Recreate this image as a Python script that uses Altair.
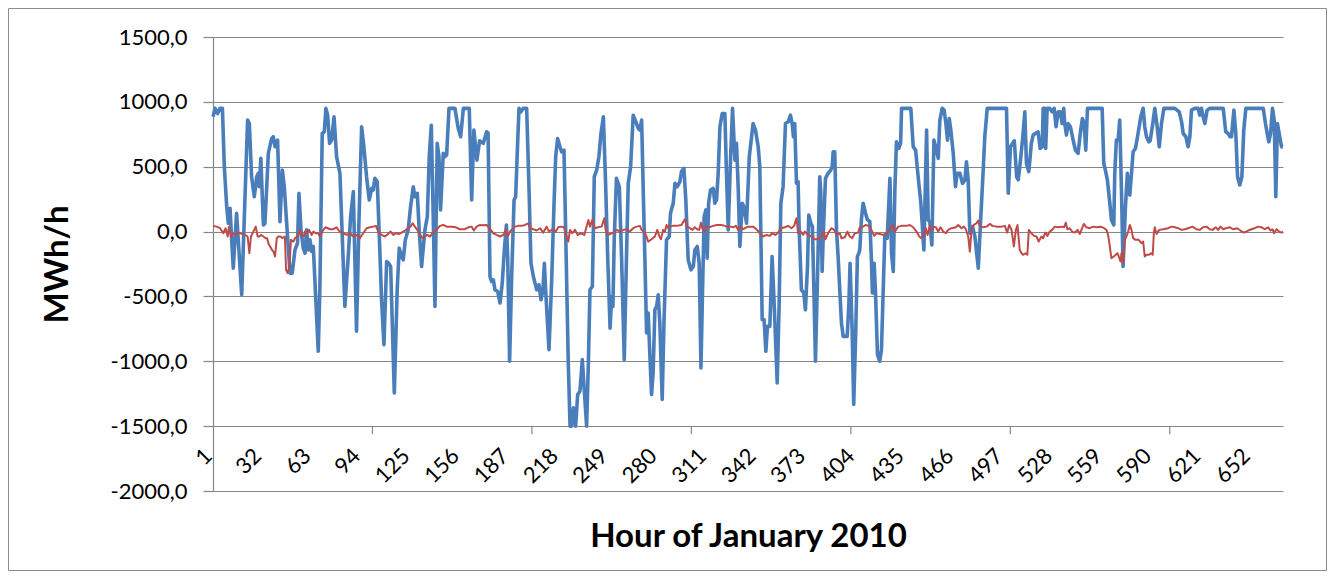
import altair as alt
import pandas as pd

# ---- data (hour, MWh/h) ----
blue_points = [
    (1, 885), (2.3, 950), (3.9, 910), (5.4, 950), (6.9, 950), (8.1, 500), (9.6, 190), (10.6, 64),
    (11.7, 180), (12.7, -64), (13.7, -282), (15.8, 141), (19, -487), (22.7, 859), (23.8, 833),
    (25.2, 423), (26.9, 269), (28.4, 423), (29.4, 449), (30, 346), (31, 564), (32.6, 51), (33.6, 64),
    (35.7, 603), (37.8, 718), (38.8, 731), (39.9, 654), (41.5, 705), (43, 77), (44.5, 474),
    (45.7, 346), (47.2, 64), (49.3, -320), (50.7, -320), (52.4, -141), (54, -90), (54.9, 295),
    (56.2, 13), (57.6, -128), (58.7, -167), (59.7, 13), (60.8, -141), (61.8, -64), (62.9, -154),
    (63.9, -115), (67, -923), (68, -449), (69.5, 756), (70.8, 769), (71.8, 950), (72.9, 897),
    (74.1, 680), (75.4, 705), (76.9, 885), (78.5, 577), (80.6, 449), (83.7, -577), (85.8, -192),
    (87.3, 115), (89, 308), (91, -769), (92.5, 64), (94.2, 808), (95.6, 654), (97.3, 423), (99, 244),
    (100.5, 333), (101.5, 320), (102.5, 410), (104, 385), (105.3, -38), (106.7, -526), (108.2, -872),
    (109.9, -231), (111.1, -244), (112.4, -269), (114.7, -1244), (116.5, -449), (117.8, -128),
    (119.3, -192), (120.3, -218), (121.6, -64), (123.4, 13), (124.9, 192), (126.6, 346), (127.6, 269),
    (129.1, 295), (130.3, 13), (131.8, -269), (133.9, 13), (135.4, 115), (136.6, 577), (137.9, 820),
    (139.1, 115), (140.2, -577), (141.6, 680), (142.7, 577), (143.7, 167), (145.4, 603), (146.4, 577),
    (147.5, 590), (149, 950), (152.7, 950), (154.8, 795), (156.3, 731), (158, 950), (161.7, 950),
    (163.2, 244), (164.6, 782), (166.5, 551), (168.2, 700), (170.5, 680), (172.6, 769), (173.5, 760),
    (174.7, -346), (175.7, -385), (176.8, -372), (177.8, -449), (179.5, -462), (181, -551),
    (182.4, -397), (183.7, -141), (185, 51), (185.8, -192), (187, -1000), (188.3, -346), (189.8, 244),
    (190.8, 269), (192.1, 705), (192.9, 950), (194.1, 923), (195.6, 950), (197.7, 950), (199.2, 320),
    (200.4, -244), (201.9, -346), (204, -449), (205.4, -410), (206.7, -526), (207.9, -449),
    (208.8, -244), (209.6, -449), (211.7, -910), (213.4, -372), (214.8, 192), (215.9, 577),
    (217.1, 718), (218.6, 654), (219.6, 615), (221.1, 628), (222.1, 38), (223.8, -1013),
    (224.9, -1500), (225.9, -1500), (227, -1359), (228.4, -1500), (229.7, -1256), (231.1, -1231),
    (232.6, -987), (233.8, -1218), (235.3, -1500), (236.4, -1013), (237.4, -449), (238.9, -423),
    (240.1, 423), (241.6, 474), (243, 577), (244.3, 756), (245.8, 885), (247.2, 372), (248.5, -192),
    (250, -744), (251, -500), (251.8, -577), (252.6, -64), (254, 410), (255.8, 346), (257.2, -192),
    (258.9, -987), (260.3, -192), (261.4, 372), (262.9, 500), (264.5, 897), (266.2, 846),
    (267.7, 795), (268.7, 782), (269.8, 859), (270.8, 320), (271.8, -192), (272.9, -782),
    (273.9, -628), (275, -962), (276, -1256), (277, -1090), (278.1, -603), (279.2, -577),
    (280.2, -487), (281.2, -705), (282.7, -1295), (283.8, -705), (285.4, -64), (287.1, -38),
    (287.9, 141), (289.6, 218), (290.7, 372), (292.1, 346), (293.8, 385), (294.8, 462), (296.3, 487),
    (297.5, 244), (299, -218), (300.7, -295), (302.2, -269), (303.2, -141), (304.7, -115),
    (305.9, -244), (307, -1051), (308, -449), (309, 115), (310.1, 167), (310.9, -205), (311.8, 218),
    (313, 320), (314.7, 333), (315.7, 218), (316.8, 244), (317.8, 449), (318.9, 808), (320.3, 910),
    (322, 910), (323, 449), (324.1, 13), (325.6, 577), (326.8, 950), (328.3, 551), (329.3, 680),
    (330.4, 320), (331.4, -115), (332.9, 218), (333.9, 192), (335.6, 64), (337.3, 577), (339.7, 833),
    (341.2, 782), (342.9, 654), (343.9, 500), (345.4, -679), (346.6, -679), (347.7, -923),
    (348.7, -731), (350.2, -731), (351.6, -192), (352.9, -551), (354.8, -1167), (356, -577),
    (357.1, 218), (358.5, 346), (360, 833), (361.7, 846), (363.1, 897), (364.2, 833), (365, 731),
    (365.8, 833), (366.9, 372), (367.9, 385), (368.6, 13), (370, -449), (371.5, -474), (372.5, -603),
    (373.8, -269), (374.6, 128), (375.9, 64), (376.9, 38), (377.8, -449), (378.8, -1000),
    (380.1, -346), (381.5, 423), (382.1, 320), (383, -308), (383.8, 13), (385.1, 410), (386.7, 449),
    (388.4, 474), (389.3, 500), (389.9, 615), (390.9, 615), (392, 13), (393, -192), (395.1, -705),
    (396.2, -808), (398.7, -808), (399.7, -577), (400.5, -244), (401.8, -756), (402.8, -1333),
    (404.1, -756), (405.1, -192), (406, -167), (406.6, -141), (407.6, 90), (408.7, 218), (410.2, 141),
    (411.4, 90), (412.9, 77), (413.9, -218), (414.5, -474), (415.6, -244), (416.4, -449),
    (417.7, -949), (419.1, -1000), (420.2, -910), (421.3, -449), (422.3, -38), (423.8, -51),
    (425.5, 410), (426.5, -167), (427.6, -308), (428.6, 320), (429.6, 692), (431.1, 641),
    (432.2, 680), (432.8, 950), (438.6, 950), (440.1, 654), (441.6, 628), (443.2, 423), (444.9, 218),
    (446.8, -141), (448.5, 782), (449.5, 90), (450.5, 77), (451.8, -103), (453.1, 705), (454.7, 628),
    (455.8, 564), (456.8, 859), (458.3, 950), (459.5, 936), (460.6, 833), (461.6, 705), (462.7, 872),
    (463.7, 782), (465.2, 603), (466.6, 346), (467.7, 449), (469.4, 449), (471, 372), (472.5, 397),
    (473.5, 538), (474.6, 397), (475.6, -13), (477.3, 38), (478.8, -38), (480.9, -282), (482.3, 64),
    (484, 474), (485, 731), (486.5, 950), (498.6, 950), (499.7, 295), (501.1, 654), (503.5, 700),
    (505, 420), (506, 400), (507.6, 577), (509, 756), (510.1, 923), (511.1, 526), (512.6, 462),
    (514.2, 680), (515.3, 744), (516.8, 756), (518.4, 769), (519.7, 641), (521, 654), (521.6, 950),
    (522.6, 950), (523.2, 641), (524.1, 950), (525.7, 950), (527.2, 923), (528.5, 950), (529.7, 808),
    (531, 923), (532.4, 923), (533.5, 833), (534.5, 950), (535.1, 833), (536.2, 744), (537.2, 833),
    (538.7, 808), (540.4, 705), (541.8, 628), (543.5, 603), (545, 769), (546.2, 872), (547.3, 833),
    (548.3, 628), (549.4, 950), (558.6, 950), (559.6, 526), (560.6, 474), (561.9, 397), (563.4, 218),
    (564.4, 90), (565.9, 51), (566.5, 449), (567.5, 705), (568.6, 705), (569.6, 859), (570.7, 320),
    (571.7, -269), (573.2, 192), (574.4, 449), (575.9, 282), (577, 449), (578, 615), (579.5, 641),
    (581.1, 756), (582.8, 885), (584.3, 950), (585.3, 808), (586.4, 731), (587.8, 692), (588.7, 700),
    (590.3, 830), (591.6, 950), (593.1, 808), (594.4, 654), (595.8, 833), (597.3, 950), (604.2, 950),
    (606.9, 923), (608.4, 846), (609.4, 756), (611.1, 731), (612.5, 654), (613.6, 731), (614.6, 936),
    (616.7, 950), (618.8, 950), (619.8, 897), (620.9, 950), (621.9, 885), (623, 833), (624.4, 936),
    (626.1, 950), (634.5, 950), (636.1, 769), (637.6, 756), (638.7, 731), (639.7, 731), (641.2, 936),
    (642.4, 756), (643.5, 423), (644.9, 359), (646.2, 423), (647.4, 782), (648.7, 950), (659.6, 950),
    (661, 833), (662.1, 756), (663.1, 692), (664.2, 756), (665.4, 950), (666.5, 859), (667.5, 269),
    (668.5, 833), (669.6, 756), (671.1, 654), (672, 650),
]

red_points = [
    (1, 44), (3.3, 38), (5.4, 26), (7.5, -13), (8.9, 26), (10.2, -38), (11, 38), (12.3, -38),
    (13.7, -13), (15.2, -26), (16.9, -8), (19, -18), (21.1, -26), (22.7, -38), (23.8, -167),
    (24.8, -38), (26.3, 0), (27.8, 38), (29, -38), (30, -38), (31.1, -26), (32.6, -38), (34, -51),
    (35, -51), (35.7, -90), (36.8, -115), (38, -141), (38.9, -154), (39.9, -192), (41, -51), (42, -38),
    (43.5, -38), (44.3, -51), (46.1, -38), (46.8, -295), (47.8, -320), (48.9, -269), (49.9, -64),
    (51.4, -77), (52.4, -51), (54.1, -38), (55.5, 13), (56.6, -26), (58, -38), (58.7, 0), (59.7, -13),
    (61.2, 13), (62.9, -26), (63.9, 0), (65.3, -13), (67, -13), (68, -38), (70.2, 13), (71.6, 33),
    (74.4, 18), (76.4, 18), (78.5, 33), (79.6, 13), (80.6, 0), (82.7, -13), (84.8, -26), (86.9, -13),
    (89, -38), (91, -26), (93.1, -51), (95.2, -13), (97.3, 26), (99.4, 33), (101.5, 38), (103.2, 44),
    (104.6, 0), (106.7, -26), (108.8, -38), (110.9, -18), (112.4, 0), (114, -26), (115.7, -13),
    (117.8, -18), (119.3, -8), (121.4, 8), (123.4, 26), (124.9, 38), (126.2, 64), (127.6, 38),
    (129.1, 13), (130.8, -26), (132.4, -51), (133.9, -38), (135.4, -26), (137, -38), (138.7, -13),
    (140.2, 8), (141.6, 18), (143.3, 44), (145.4, 51), (147.5, 38), (150.6, 38), (153.3, 33),
    (155.8, 18), (159, 18), (161.1, 33), (163.2, 38), (164.6, 8), (166.3, 38), (168.4, 51),
    (169.5, 49), (172.6, 51), (174.7, 18), (176.8, -13), (178.9, -26), (181, -38), (183.1, -26),
    (184.5, 13), (185.8, -38), (187.2, 0), (188.7, 18), (190.4, 38), (192.5, 44), (194.6, 44),
    (196.7, 51), (198.7, 64), (199.8, 26), (201.9, 18), (204, 8), (206.1, 26), (208.1, -8),
    (210.2, 38), (211.7, 0), (213.8, 18), (215.9, 0), (217.5, 33), (219.6, 38), (221.1, 33),
    (222.8, -38), (223.8, -77), (224.9, 13), (226.3, -13), (228, 13), (229.7, -26), (231.8, -13),
    (233.8, -26), (235.3, 38), (236.4, 90), (237.4, 38), (238.9, 90), (240.5, 26), (242.6, 33),
    (244.7, 38), (246.4, 103), (247.2, 13), (248.9, -26), (251, -13), (252, -8), (254.1, 13),
    (256.2, 0), (258.3, 13), (260.3, 18), (262.4, 0), (264.5, 26), (266.6, 38), (268.7, 44),
    (269.8, 13), (271.2, 0), (272.5, -26), (273.9, -77), (276, -59), (278.1, -38), (279.6, 13),
    (280.8, -33), (281.9, -59), (283.3, 13), (284.4, 0), (285.4, 51), (286.5, 26), (287.5, 38),
    (289.2, 44), (291.7, 44), (294.8, 51), (296.9, 95), (298.4, 38), (300.1, 26), (301.7, 13),
    (303.2, 33), (304.6, 18), (305.9, 13), (307, 69), (308, 18), (309.4, 0), (310.5, 38), (312.2, 33),
    (314.7, 44), (316.8, 51), (319.9, 51), (322, 44), (324.1, 33), (325.6, 38), (327.2, 33),
    (328.9, 44), (330.4, 13), (331.8, 38), (333.5, 18), (335.6, 33), (336.6, 38), (339.7, 38),
    (341.8, 18), (343.9, -13), (346, -38), (348.1, -26), (350.2, -33), (351.6, -13), (353.7, -26),
    (355.4, -8), (357.1, 26), (359.6, 33), (361.7, 44), (363.8, 26), (365.4, 44), (366.9, 103),
    (367.9, -13), (369.6, 0), (371.1, -26), (372.1, 0), (374.2, -26), (376.3, -38), (378.4, -59),
    (380.5, -59), (382.6, -38), (384, 0), (385.1, -59), (386.7, -13), (388.8, 26), (390.5, 13),
    (392, -26), (394.1, -13), (395.1, -51), (397.2, -44), (398.9, 0), (400.3, -38), (401.8, -51),
    (403.5, -13), (405.6, -8), (406.6, 33), (408.7, 38), (410.2, 51), (412.2, 44), (413.9, 13),
    (415.6, -33), (417.1, -13), (419.1, -18), (421.3, -26), (423.4, -13), (425.5, 13), (427.1, 51),
    (428.6, 0), (430.7, 38), (432.8, 44), (435.9, 44), (438, 51), (440.1, 33), (442.2, 0),
    (443.9, -38), (445.3, -51), (446.8, -13), (448, 26), (449.1, -26), (450.5, 44), (451.5, 13),
    (452.6, 38), (454.3, 33), (455.8, 0), (457.2, 33), (458.9, 0), (460.6, -13), (462, 13),
    (464.1, 26), (466.9, 33), (468.3, 51), (470.4, 26), (471.9, 38), (473.1, 18), (474.6, -38),
    (475.6, -154), (476.7, 13), (478.1, 51), (479.8, 64), (480.9, 85), (481.9, 38), (484, 33),
    (486.1, 38), (488.2, 59), (489.8, 44), (492.3, 38), (495.5, 38), (497.6, 44), (499, -8),
    (500.3, 51), (501.8, 13), (503.2, -115), (504.5, 13), (505.5, 51), (506.9, -141), (508, -167),
    (509, -179), (510.5, -167), (511.7, -179), (512.6, 13), (514.2, -13), (515.9, -33), (517.4, -38),
    (518.8, -77), (520.5, -38), (521.6, -51), (523, -8), (524.3, -33), (525.7, 0), (527.2, 13),
    (528.9, 38), (531, 33), (533.1, 38), (534.7, 33), (535.8, 69), (536.8, 18), (538.3, 26),
    (539.7, 0), (541.4, -8), (543.1, 13), (544.6, -18), (545.6, 13), (547.1, 59), (548.7, 33),
    (550.8, 26), (552.9, 38), (555, 33), (557.7, 38), (559.8, 26), (561.3, 13), (562.3, -26),
    (563.4, -115), (564.4, -205), (565.9, -192), (567.1, -179), (568.2, -167), (569, -192),
    (570.1, -231), (570.7, -167), (571.7, -244), (572.8, -64), (573.8, -38), (574.9, 0), (575.9, 51),
    (577, 13), (578, -51), (579.5, -64), (581.5, -64), (583.2, -90), (584.3, -77), (585.3, -192),
    (586.4, -179), (587.8, -179), (589.5, -167), (590.3, -179), (591, -13), (591.6, 33), (592.7, -18),
    (594.4, 13), (596.9, 18), (600, 26), (602.1, 38), (604.2, 33), (606.3, 26), (608.4, 13),
    (610.4, 18), (612.5, 26), (615.2, 38), (617.8, 18), (619.8, 13), (621.9, 33), (624, 38),
    (626.1, 18), (627.8, 13), (629.9, 33), (631.3, 13), (632.8, 38), (634.5, 18), (636.1, 26),
    (638.7, 33), (640.7, 18), (643.3, 26), (645.3, 8), (647.4, -8), (650.2, 8), (652.2, 18),
    (654.3, 26), (656.4, 38), (658.5, 33), (660.6, 18), (662.7, 33), (664.2, 8), (665.4, 18),
    (666.5, -13), (667.9, 18), (669.6, 0), (671.1, -8), (672, 0),
]

x_label_hours = [1, 32, 63, 94, 125, 156, 187, 218, 249, 280, 311, 342, 373, 404, 435, 466,
                 497, 528, 559, 590, 621, 652]
x_tick_hours = [101, 201, 301, 401, 501, 601]
y_ticks = [-2000, -1500, -1000, -500, 0, 500, 1000, 1500]
x_domain = [1, 672]
y_domain = [-2000, 1500]

FONT = "Lato"
GRID = "#868686"
PLOT_W, PLOT_H = 1070, 454

blue_df = pd.DataFrame(blue_points, columns=["hour", "mwh"])
red_df = pd.DataFrame(red_points, columns=["hour", "mwh"])
tick_df = pd.DataFrame({"hour": x_tick_hours})
frame_df = pd.DataFrame({"a": [0]})

x_scale = alt.Scale(domain=x_domain, nice=False, zero=False)
y_scale = alt.Scale(domain=y_domain, nice=False, zero=False)

x_axis = alt.Axis(
    values=x_label_hours, title="Hour of January 2010", labelAngle=-45, labelAlign="right",
    labelBaseline="middle", ticks=False, tickSize=0, domain=False, grid=False, offset=-65,
    labelPadding=26, labelOffset=-5, labelFont=FONT, labelFontSize=22, labelColor="black",
    labelOverlap=False, labelFlush=False, labelBound=False,
    titleFont=FONT, titleFontSize=33, titleFontWeight="bold", titleColor="black", titlePadding=34,
)
y_axis = alt.Axis(
    values=y_ticks, labelExpr="datum.value + ',0'", title="MWh/h", grid=True, gridColor=GRID,
    gridWidth=1.2, domainColor=GRID, domainWidth=1.2, tickColor=GRID, tickWidth=1.2, tickSize=10,
    labelPadding=16, labelFont=FONT, labelFontSize=22, labelColor="black",
    titleFont=FONT, titleFontSize=33, titleFontWeight="bold", titleColor="black", titlePadding=36,
)

blue = alt.Chart(blue_df).mark_line(color="#4a7ebb", strokeWidth=3.6, strokeJoin="round").encode(
    x=alt.X("hour:Q", scale=x_scale, axis=x_axis),
    y=alt.Y("mwh:Q", scale=y_scale, axis=y_axis),
)
red = alt.Chart(red_df).mark_line(color="#be4b48", strokeWidth=2, strokeJoin="round").encode(
    x=alt.X("hour:Q", scale=x_scale),
    y=alt.Y("mwh:Q", scale=y_scale),
)
ticks = alt.Chart(tick_df).mark_rule(color=GRID, strokeWidth=1.2).encode(
    x=alt.X("hour:Q", scale=x_scale),
    y=alt.value(PLOT_H - PLOT_H * 500 / 3500),
    y2=alt.value(PLOT_H - PLOT_H * 500 / 3500 + 8),
)
frame = alt.Chart(frame_df).mark_rect(fill="transparent", stroke="#8c8c8c", strokeWidth=1).encode(
    x=alt.value(-204.5), x2=alt.value(PLOT_W + 43.5),
    y=alt.value(-28.5), y2=alt.value(PLOT_H + 79.5),
)

chart = alt.layer(frame, ticks, blue, red).properties(
    width=PLOT_W, height=PLOT_H,
    autosize=alt.AutoSizeParams(type="none"),
    padding={"left": 205, "top": 29, "right": 44, "bottom": 80},
    background="white",
).configure_view(stroke=None)

chart.save("out.html", embed_options={"renderer": "svg", "actions": False})
